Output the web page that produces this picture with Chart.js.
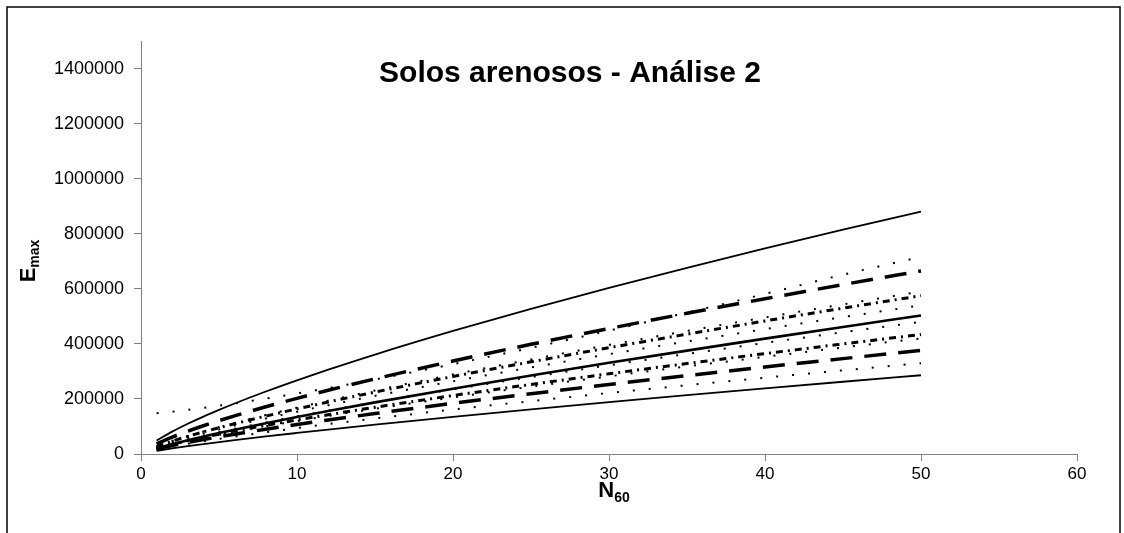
<!DOCTYPE html>
<html>
<head>
<meta charset="utf-8">
<script src="https://cdn.jsdelivr.net/npm/chart.js@4.4.1/dist/chart.umd.min.js"></script>
<style>
  html, body { margin: 0; padding: 0; background: #fff; }
  #wrap { width: 1124px; height: 533px; position: relative; }
</style>
</head>
<body>
<div id="wrap"><canvas id="grafico" width="1124" height="533"></canvas></div>
<script>
const nValues = [1, 2, 3, 4, 5, 6, 8, 10, 12, 15, 20, 25, 30, 35, 40, 45, 50];

// Emax series (top to bottom at N = 50)
const solidTop   = [48700, 81300, 109800, 135900, 160200, 183400, 226900, 267600, 306300, 361300, 447000, 527400, 603400, 676400, 746600, 814700, 880000];
const dotTop     = [148000, 153800, 160400, 167700, 175500, 183700, 201200, 219800, 239500, 270700, 326200, 385500, 448100, 513400, 581400, 651300, 716000];
const dashTop    = [36800, 61400, 82900, 102600, 121000, 138500, 171400, 202100, 231300, 272900, 337600, 398300, 455700, 510900, 563800, 615300, 665000];
const dot2       = [27900, 47900, 65700, 82200, 97900, 112900, 141300, 168100, 193800, 230700, 288800, 343400, 396200, 446700, 495800, 543500, 590000];
const dashDot1   = [27200, 46700, 64100, 80200, 95400, 110000, 137700, 163800, 188900, 224800, 281400, 334700, 386100, 435300, 483200, 529700, 575000];
const dot3       = [25500, 43800, 60100, 75300, 89600, 103300, 129300, 153800, 177300, 211100, 264200, 314300, 362500, 408700, 453700, 497300, 540000];
const solidMid   = [20000, 35900, 50100, 63400, 76100, 88400, 112000, 134500, 156100, 187500, 237300, 285100, 331100, 375500, 419000, 461500, 503000];
const dot4       = [22700, 39000, 53500, 66900, 79700, 91800, 114900, 136800, 157700, 187700, 234900, 279400, 322300, 363400, 403400, 442200, 480000];
const dashDot2   = [20500, 35200, 48300, 60500, 72000, 83000, 103900, 123700, 142500, 169700, 212400, 252600, 291400, 328500, 364600, 399700, 434000];
const dot5       = [19900, 34100, 46800, 58500, 69700, 80400, 100600, 119700, 137900, 164200, 205600, 244500, 282000, 318000, 352900, 386900, 420000];
const dashLow    = [17800, 30500, 41900, 52400, 62400, 71900, 90000, 107100, 123500, 147000, 184000, 218900, 252500, 284700, 316000, 346400, 376000];
const dot6       = [15600, 26800, 36800, 46000, 54700, 63100, 79000, 94000, 108400, 129000, 161500, 192000, 221500, 249800, 277200, 303900, 330000];
const solidLow   = [11600, 20400, 28500, 36100, 43300, 50300, 63700, 76400, 88800, 106600, 134900, 162100, 188200, 213500, 238200, 262400, 286000];

const xTicks = [0, 10, 20, 30, 40, 50, 60];
const yTicks = [0, 200000, 400000, 600000, 800000, 1000000, 1200000, 1400000];

const chartTitle = "Solos arenosos - Análise 2";

function pts(arr) {
    return arr.map((v, i) => ({ x: nValues[i], y: v }));
}

const DOT = [2, 14];
const LONGDASH = [22, 12];
const DASHDOT = [7, 5, 2, 5];

function serie(label, arr, width, dash) {
    return {
        label: label,
        data: pts(arr),
        borderColor: "#000",
        borderWidth: width,
        borderDash: dash,
        pointRadius: 0,
        cubicInterpolationMode: "monotone",
        fill: false
    };
}

const decor = {
    id: "decor",
    afterDraw(chart) {
        const ctx = chart.ctx;
        ctx.save();
        // outer frame
        ctx.strokeStyle = "#000";
        ctx.lineWidth = 1.5;
        ctx.strokeRect(7, 7, 1113, 600);

        // title inside plot
        ctx.fillStyle = "#000";
        ctx.textAlign = "center";
        ctx.textBaseline = "alphabetic";
        ctx.font = "bold 30px 'Liberation Sans', Arial, sans-serif";
        ctx.fillText(chartTitle, 570, 82);

        // x title N60
        ctx.textAlign = "left";
        ctx.font = "bold 22px 'Liberation Sans', Arial, sans-serif";
        const wN = ctx.measureText("N").width;
        ctx.font = "bold 14px 'Liberation Sans', Arial, sans-serif";
        const w60 = ctx.measureText("60").width;
        const x0 = 614 - (wN + w60) / 2;
        ctx.font = "bold 22px 'Liberation Sans', Arial, sans-serif";
        ctx.fillText("N", x0, 497);
        ctx.font = "bold 14px 'Liberation Sans', Arial, sans-serif";
        ctx.fillText("60", x0 + wN, 502);

        // y title Emax
        ctx.translate(27, 261);
        ctx.rotate(-Math.PI / 2);
        ctx.font = "bold 22px 'Liberation Sans', Arial, sans-serif";
        const wE = ctx.measureText("E").width;
        ctx.font = "bold 14px 'Liberation Sans', Arial, sans-serif";
        const wMax = ctx.measureText("max").width;
        const s = -(wE + wMax) / 2;
        ctx.font = "bold 22px 'Liberation Sans', Arial, sans-serif";
        ctx.fillText("E", s, 8);
        ctx.font = "bold 14px 'Liberation Sans', Arial, sans-serif";
        ctx.fillText("max", s + wE, 12);
        ctx.restore();
    }
};

const ctx = document.getElementById("grafico");
new Chart(ctx, {
    type: "line",
    data: {
        datasets: [
            serie("S1", solidTop, 1.8, []),
            serie("D1", dotTop, 2, DOT),
            serie("L1", dashTop, 3.5, LONGDASH),
            serie("D2", dot2, 2, DOT),
            serie("DD1", dashDot1, 3, DASHDOT),
            serie("D3", dot3, 2, DOT),
            serie("S2", solidMid, 2.6, []),
            serie("D4", dot4, 2, DOT),
            serie("DD2", dashDot2, 3, DASHDOT),
            serie("D5", dot5, 2, DOT),
            serie("L2", dashLow, 3.5, LONGDASH),
            serie("D6", dot6, 2, DOT),
            serie("S3", solidLow, 1.8, [])
        ]
    },
    plugins: [decor],
    options: {
        responsive: false,
        animation: false,
        devicePixelRatio: 1,
        layout: { padding: { top: 41, right: 47, left: 0, bottom: 0 } },
        plugins: {
            legend: { display: false },
            tooltip: { enabled: false },
            title: { display: false }
        },
        scales: {
            x: {
                type: "linear",
                min: 0,
                max: 60,
                afterBuildTicks: scale => { scale.ticks = xTicks.map(v => ({ value: v })); },
                afterFit: scale => { scale.height = 79; },
                grid: { drawOnChartArea: false, drawTicks: true, tickLength: 7, color: "#808080" },
                border: { color: "#808080", width: 1 },
                ticks: {
                    color: "#000",
                    padding: 3,
                    maxRotation: 0,
                    font: { family: "'Liberation Sans', Arial, sans-serif", size: 17 },
                    callback: v => String(v)
                }
            },
            y: {
                min: 0,
                max: 1500000,
                afterBuildTicks: scale => { scale.ticks = yTicks.map(v => ({ value: v })); },
                afterFit: scale => { scale.width = 141; },
                grid: { drawOnChartArea: false, drawTicks: true, tickLength: 7, color: "#808080" },
                border: { color: "#808080", width: 1 },
                ticks: {
                    color: "#000",
                    padding: 10,
                    font: { family: "'Liberation Sans', Arial, sans-serif", size: 18 },
                    callback: v => String(v)
                }
            }
        }
    }
});
</script>
</body>
</html>
